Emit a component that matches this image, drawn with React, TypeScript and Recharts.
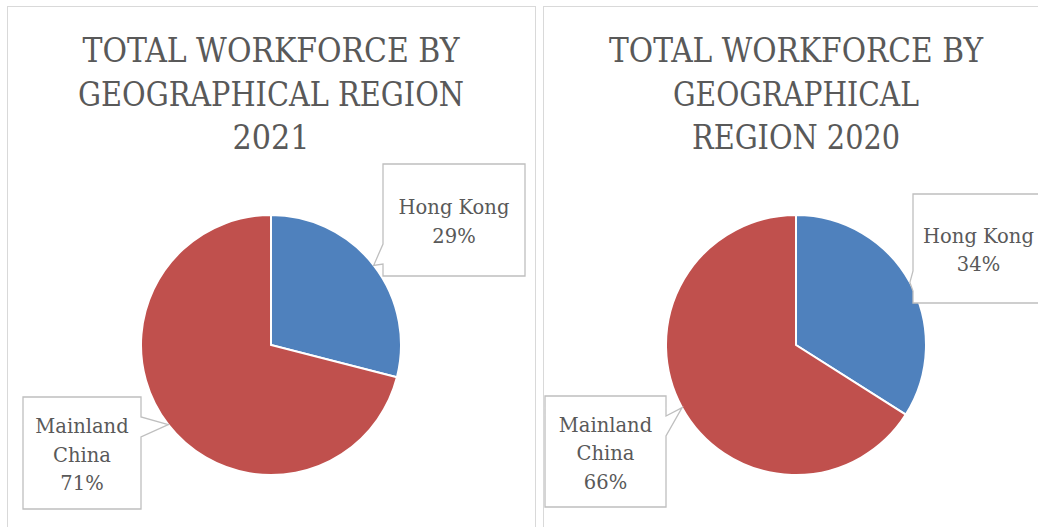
import React from "react";
import { PieChart, Pie, Cell } from "recharts";

// ---- data ----
const regions = ["Hong Kong", "Mainland China"];
const labelLines = [["Hong Kong"], ["Mainland", "China"]];
const share2021 = [29, 71];
const share2020 = [34, 66];
const title2021 = ["TOTAL WORKFORCE BY", "GEOGRAPHICAL REGION", "2021"];
const title2020 = ["TOTAL WORKFORCE BY", "GEOGRAPHICAL", "REGION 2020"];

// ---- style / layout ----
const colors = ["#4F81BD", "#C0504D"];
const TEXT = "#595959";
const TITLE_FONT = "'DejaVu Serif Condensed', 'DejaVu Serif', serif";
const LABEL_FONT = "'DejaVu Serif', serif";

type Box = { dx: number; dy: number; w: number; h: number };

const panels = [
  {
    left: 7,
    cx: 264,
    title: title2021,
    titleWidths: [377, 386, 77],
    values: share2021,
    boxes: [
      { dx: 112, dy: -181, w: 142, h: 112 },
      { dx: -248, dy: 52, w: 118, h: 112 },
    ] as Box[],
  },
  {
    left: 543,
    cx: 253,
    title: title2020,
    titleWidths: [374, 246, 208],
    values: share2020,
    boxes: [
      { dx: 117, dy: -151, w: 131, h: 109 },
      { dx: -251, dy: 51, w: 121, h: 111 },
    ] as Box[],
  },
];

const clamp = (v: number, a: number, b: number) => Math.max(a, Math.min(b, v));

function calloutPath(x: number, y: number, w: number, h: number, tx: number, ty: number) {
  const hw = 10;
  if (tx < x) {
    const c = clamp(ty, y + 30, y + h - 22);
    return `M${x},${y} L${x + w},${y} L${x + w},${y + h} L${x},${y + h} L${x},${c + hw} L${tx},${ty} L${x},${c - hw} Z`;
  }
  if (tx > x + w) {
    const c = clamp(ty, y + 30, y + h - 22);
    return `M${x},${y} L${x + w},${y} L${x + w},${c - hw} L${tx},${ty} L${x + w},${c + hw} L${x + w},${y + h} L${x},${y + h} Z`;
  }
  return `M${x},${y} L${x + w},${y} L${x + w},${y + h} L${x},${y + h} Z`;
}

function makeLabel(boxes: Box[]) {
  return (props: any) => {
    const { cx, cy, midAngle, outerRadius, index, value } = props;
    const b = boxes[index];
    const rad = (Math.PI / 180) * midAngle;
    const tx = cx + outerRadius * Math.cos(rad);
    const ty = cy - outerRadius * Math.sin(rad);
    const x = cx + b.dx;
    const y = cy + b.dy;
    const lines = [...labelLines[index], `${value}%`];
    const lh = 28.5;
    const mid = y + b.h / 2 + 1.5;
    return (
      <g key={`lbl-${index}`}>
        <path d={calloutPath(x, y, b.w, b.h, tx, ty)} fill="#ffffff" stroke="#bfbfbf" strokeWidth={1.3} />
        {lines.map((t, i) => (
          <text
            key={i}
            x={x + b.w / 2}
            y={mid - ((lines.length - 1) / 2) * lh + i * lh + 7}
            textAnchor="middle"
            fill={TEXT}
            fontFamily={LABEL_FONT}
            fontSize={19.5}
          >
            {t}
          </text>
        ))}
      </g>
    );
  };
}

function Panel({ p }: { p: (typeof panels)[number] }) {
  const data = regions.map((name, i) => ({ name, value: p.values[i] }));
  const baselines = [55.5, 99.5, 142.5];
  return (
    <>
      <div
        style={{
          position: "absolute",
          left: p.left,
          top: 6,
          width: 529,
          height: 560,
          border: "1px solid #d9d9d9",
          boxSizing: "border-box",
          background: "#fff",
        }}
      />
      <div style={{ position: "absolute", left: p.left, top: 6 }}>
        <PieChart width={529} height={540} margin={{ top: 0, right: 0, bottom: 0, left: 0 }}>
          <Pie
            data={data}
            dataKey="value"
            nameKey="name"
            cx={p.cx}
            cy={339}
            outerRadius={130}
            startAngle={90}
            endAngle={-270}
            stroke="#ffffff"
            strokeWidth={2}
            isAnimationActive={false}
            labelLine={false}
            label={makeLabel(p.boxes)}
          >
            {data.map((d, i) => (
              <Cell key={d.name} fill={colors[i]} />
            ))}
          </Pie>
        </PieChart>
      </div>
      <svg
        width={529}
        height={160}
        style={{ position: "absolute", left: p.left, top: 6, pointerEvents: "none" }}
      >
        {p.title.map((t, i) => (
          <text
            key={i}
            x={p.cx}
            y={baselines[i]}
            textAnchor="middle"
            fill={TEXT}
            fontFamily={TITLE_FONT}
            fontSize={34}
            textLength={p.titleWidths[i]}
            lengthAdjust="spacingAndGlyphs"
          >
            {t}
          </text>
        ))}
      </svg>
    </>
  );
}

export default function App() {
  return (
    <div
      style={{
        position: "absolute",
        left: 0,
        top: 0,
        width: 1038,
        height: 527,
        overflow: "hidden",
        background: "#ffffff",
      }}
    >
      {panels.map((p, i) => (
        <Panel key={i} p={p} />
      ))}
    </div>
  );
}
